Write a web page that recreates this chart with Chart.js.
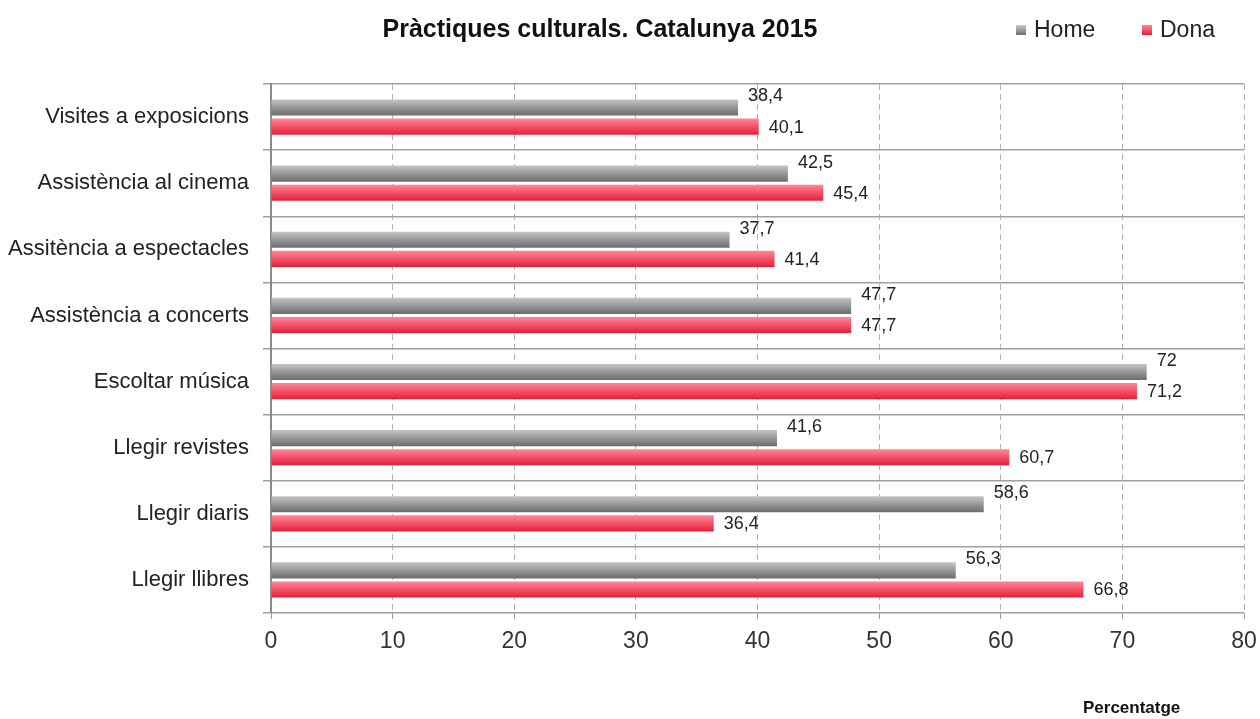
<!DOCTYPE html>
<html>
<head>
<meta charset="utf-8">
<script src="https://cdn.jsdelivr.net/npm/chart.js@4"></script>
<style>
  body { margin: 0; background: #fff; overflow: hidden; }
  canvas { display: block; }
  #wrap { position: relative; width: 1260px; height: 719px; font-family: 'Liberation Sans Narrow', 'Arial Narrow', sans-serif; }
  #title { position: absolute; left: 300px; width: 600px; top: 14px; text-align: center; font-weight: bold; font-size: 25px; color: #111; }
  .leg { position: absolute; top: 16px; font-size: 23px; color: #222; }
  .leg span { display: inline-block; width: 10px; height: 10px; margin-right: 8px; vertical-align: 2px; }
  #xtitle { position: absolute; left: 1083px; top: 698px; font-weight: bold; font-size: 17px; color: #111; }
</style>
</head>
<body>
<div id="wrap">
  <canvas id="chart" width="1260" height="719"></canvas>
  <div id="title">Pràctiques culturals. Catalunya 2015</div>
  <div class="leg" style="left:1016px"><span style="background:linear-gradient(#c8c8c8,#707070)"></span>Home</div>
  <div class="leg" style="left:1142px"><span style="background:linear-gradient(#ff8596,#e8203a)"></span>Dona</div>
  <div id="xtitle">Percentatge</div>
</div>
<script>
const categories = ['Visites a exposicions', 'Assistència al cinema', 'Assitència a espectacles', 'Assistència a concerts',
    'Escoltar música', 'Llegir revistes', 'Llegir diaris', 'Llegir llibres'];
const home = [38.4, 42.5, 37.7, 47.7, 72, 41.6, 58.6, 56.3];
const dona = [40.1, 45.4, 41.4, 47.7, 71.2, 60.7, 36.4, 66.8];
const xTicks = [0, 10, 20, 30, 40, 50, 60, 70, 80];

const font = "'Liberation Sans Narrow', 'Arial Narrow', sans-serif";

const gradColors = [['#c4c4c4', '#6c6c6c'], ['#ff8798', '#e61e3a']];

// gradient per bar + value labels
const barStyle = {
    id: 'barStyle',
    beforeDatasetsDraw(chart) {
        const ctx = chart.ctx;
        chart.data.datasets.forEach((ds, di) => {
            chart.getDatasetMeta(di).data.forEach(bar => {
                const top = bar.y - bar.height / 2, bottom = bar.y + bar.height / 2;
                const g = ctx.createLinearGradient(0, top, 0, bottom);
                g.addColorStop(0, gradColors[di][0]);
                g.addColorStop(1, gradColors[di][1]);
                bar.options.backgroundColor = g;
            });
        });
    },
    afterDatasetsDraw(chart) {
        const ctx = chart.ctx;
        ctx.save();
        ctx.font = '18px ' + font;
        ctx.fillStyle = '#222';
        ctx.textBaseline = 'middle';
        chart.data.datasets.forEach((ds, di) => {
            chart.getDatasetMeta(di).data.forEach((bar, i) => {
                const txt = String(ds.data[i]).replace('.', ',');
                const y = di == 0 ? bar.y - bar.height / 2 - 3 : bar.y + 1;
                ctx.fillText(txt, bar.x + 10, y);
            });
        });
        ctx.restore();
    }
};

new Chart(document.getElementById('chart'), {
    type: 'bar',
    data: {
        labels: categories,
        datasets: [
            // scriptable colour so each bar gets its own options object
            { label: 'Home', data: home, backgroundColor: () => '#999' },
            { label: 'Dona', data: dona, backgroundColor: () => '#f03050' }
        ]
    },
    options: {
        indexAxis: 'y',
        responsive: false,
        animation: false,
        categoryPercentage: 0.58,
        barPercentage: 0.84,
        layout: { padding: { top: 84, right: 16, bottom: 46, left: 0 } },
        plugins: {
            legend: { display: false },
            title: { display: false },
            tooltip: { enabled: false }
        },
        scales: {
            x: {
                min: 0,
                max: 80,
                afterBuildTicks(scale) { scale.ticks = xTicks.map(v => ({ value: v })); },
                afterFit(scale) {
                    scale.height = 60;
                    scale.paddingLeft = 0;
                    scale.paddingRight = 0;
                },
                grid: { color: '#b4b4b4', lineWidth: 1, tickLength: 8, tickColor: '#a0a0a0', tickBorderDash: [6, 4] },
                border: { display: false, dash: [6, 4] },
                ticks: { color: '#333', font: { family: font, size: 23 }, padding: 7 }
            },
            y: {
                afterFit(scale) { scale.width = 271; },
                grid: { color: '#a0a0a0', lineWidth: 1.5, offset: true, tickLength: 8 },
                border: { display: true, color: '#8a8a8a', width: 2 },
                ticks: { color: '#222', font: { family: font, size: 22 }, padding: 14 }
            }
        }
    },
    plugins: [barStyle]
});
</script>
</body>
</html>
